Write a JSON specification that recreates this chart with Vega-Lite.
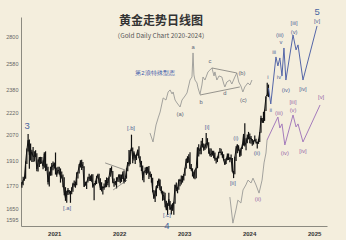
{
"$schema":"https://vega.github.io/schema/vega-lite/v6.json",
"width":306,"height":209,
"autosize":{"type":"none"},
"padding":{"left":21,"top":17,"right":19,"bottom":14},
"background":"#f4eedd",
"config":{"view":{"stroke":null},"font":"Liberation Sans"},
"title":{"text":"黄金走势日线图","subtitle":"（Gold Daily Chart 2020-2024）","font":"Noto Sans CJK SC","fontSize":12,"fontWeight":"bold","color":"#333333","subtitleFont":"Noto Sans CJK SC","subtitleFontSize":6.5,"subtitleColor":"#555555","subtitlePadding":5,"anchor":"middle","frame":"group","offset":-21,"dx":-13,"dy":13},
"datasets":{
"black":[
{"d":"2020-07-03","c":1775,"l":1757,"h":1789},{"d":"2020-07-10","c":1799,"l":1770,"h":1818},{"d":"2020-07-17","c":1810,"l":1795,"h":1815},{"d":"2020-07-24","c":1902,"l":1806,"h":1905},{"d":"2020-07-31","c":1975,"l":1890,"h":1983},{"d":"2020-08-07","c":2035,"l":1965,"h":2075},{"d":"2020-08-14","c":1944,"l":1863,"h":2040},{"d":"2020-08-21","c":1940,"l":1911,"h":2015},{"d":"2020-08-28","c":1964,"l":1903,"h":1976},{"d":"2020-09-04","c":1934,"l":1902,"h":1992},{"d":"2020-09-11","c":1940,"l":1906,"h":1966},{"d":"2020-09-18","c":1950,"l":1932,"h":1973},{"d":"2020-09-25","c":1862,"l":1849,"h":1954},{"d":"2020-10-02","c":1900,"l":1848,"h":1917},{"d":"2020-10-09","c":1930,"l":1873,"h":1932},{"d":"2020-10-16","c":1899,"l":1891,"h":1933},{"d":"2020-10-23","c":1902,"l":1894,"h":1932},{"d":"2020-10-30","c":1878,"l":1860,"h":1911},{"d":"2020-11-06","c":1951,"l":1869,"h":1960},{"d":"2020-11-13","c":1888,"l":1850,"h":1966},{"d":"2020-11-20","c":1870,"l":1853,"h":1892},{"d":"2020-11-27","c":1788,"l":1775,"h":1875},{"d":"2020-12-04","c":1839,"l":1764,"h":1848},{"d":"2020-12-11","c":1839,"l":1823,"h":1875},{"d":"2020-12-18","c":1881,"l":1824,"h":1896},{"d":"2020-12-25","c":1877,"l":1855,"h":1906},{"d":"2021-01-01","c":1895,"l":1864,"h":1900},
{"d":"2021-01-08","c":1850,"l":1830,"h":1959},{"d":"2021-01-15","c":1829,"l":1817,"h":1870},{"d":"2021-01-22","c":1856,"l":1836,"h":1875},{"d":"2021-01-29","c":1848,"l":1830,"h":1875},{"d":"2021-02-05","c":1813,"l":1785,"h":1865},{"d":"2021-02-12","c":1824,"l":1808,"h":1848},{"d":"2021-02-19","c":1784,"l":1760,"h":1830},{"d":"2021-02-26","c":1734,"l":1717,"h":1815},{"d":"2021-03-05","c":1700,"l":1687,"h":1760},{"d":"2021-03-12","c":1720,"l":1677,"h":1740},{"d":"2021-03-19","c":1745,"l":1718,"h":1755},{"d":"2021-03-26","c":1732,"l":1720,"h":1745},{"d":"2021-04-02","c":1729,"l":1677,"h":1740},{"d":"2021-04-09","c":1744,"l":1722,"h":1759},{"d":"2021-04-16","c":1777,"l":1735,"h":1784},{"d":"2021-04-23","c":1777,"l":1762,"h":1797},{"d":"2021-04-30","c":1768,"l":1757,"h":1790},{"d":"2021-05-07","c":1831,"l":1770,"h":1843},{"d":"2021-05-14","c":1844,"l":1808,"h":1846},{"d":"2021-05-21","c":1881,"l":1836,"h":1890},{"d":"2021-05-28","c":1903,"l":1870,"h":1913},{"d":"2021-06-04","c":1891,"l":1856,"h":1916},{"d":"2021-06-11","c":1877,"l":1868,"h":1903},{"d":"2021-06-18","c":1764,"l":1761,"h":1878},{"d":"2021-06-25","c":1781,"l":1768,"h":1790},{"d":"2021-07-02","c":1787,"l":1750,"h":1790},{"d":"2021-07-09","c":1808,"l":1785,"h":1818},{"d":"2021-07-16","c":1815,"l":1794,"h":1834},{"d":"2021-07-23","c":1802,"l":1794,"h":1825},{"d":"2021-07-30","c":1814,"l":1790,"h":1832},{"d":"2021-08-06","c":1763,"l":1757,"h":1832},{"d":"2021-08-13","c":1779,"l":1690,"h":1782},{"d":"2021-08-20","c":1781,"l":1770,"h":1795},{"d":"2021-08-27","c":1817,"l":1778,"h":1823},{"d":"2021-09-03","c":1827,"l":1808,"h":1834},{"d":"2021-09-10","c":1788,"l":1782,"h":1834},{"d":"2021-09-17","c":1754,"l":1745,"h":1809},{"d":"2021-09-24","c":1750,"l":1737,"h":1787},{"d":"2021-10-01","c":1761,"l":1721,"h":1765},{"d":"2021-10-08","c":1757,"l":1746,"h":1780},{"d":"2021-10-15","c":1768,"l":1758,"h":1800},{"d":"2021-10-22","c":1792,"l":1760,"h":1814},{"d":"2021-10-29","c":1783,"l":1771,"h":1810},{"d":"2021-11-05","c":1818,"l":1759,"h":1819},{"d":"2021-11-12","c":1865,"l":1817,"h":1868},{"d":"2021-11-19","c":1846,"l":1845,"h":1877},{"d":"2021-11-26","c":1788,"l":1782,"h":1850},{"d":"2021-12-03","c":1783,"l":1762,"h":1808},{"d":"2021-12-10","c":1783,"l":1770,"h":1794},{"d":"2021-12-17","c":1798,"l":1753,"h":1815},{"d":"2021-12-24","c":1809,"l":1790,"h":1815},{"d":"2021-12-31","c":1829,"l":1789,"h":1832},
{"d":"2022-01-07","c":1797,"l":1782,"h":1831},{"d":"2022-01-14","c":1818,"l":1789,"h":1830},{"d":"2022-01-21","c":1835,"l":1805,"h":1848},{"d":"2022-01-28","c":1791,"l":1780,"h":1853},{"d":"2022-02-04","c":1808,"l":1788,"h":1810},{"d":"2022-02-11","c":1859,"l":1807,"h":1865},{"d":"2022-02-18","c":1898,"l":1849,"h":1902},{"d":"2022-02-25","c":1889,"l":1878,"h":1975},{"d":"2022-03-04","c":1966,"l":1889,"h":1973},{"d":"2022-03-11","c":1988,"l":1968,"h":2070},{"d":"2022-03-18","c":1921,"l":1895,"h":1989},{"d":"2022-03-25","c":1958,"l":1911,"h":1966},{"d":"2022-04-01","c":1925,"l":1890,"h":1945},{"d":"2022-04-08","c":1946,"l":1914,"h":1950},{"d":"2022-04-15","c":1974,"l":1940,"h":1978},{"d":"2022-04-22","c":1932,"l":1924,"h":1998},{"d":"2022-04-29","c":1897,"l":1872,"h":1936},{"d":"2022-05-06","c":1883,"l":1850,"h":1909},{"d":"2022-05-13","c":1811,"l":1798,"h":1882},{"d":"2022-05-20","c":1846,"l":1787,"h":1849},{"d":"2022-05-27","c":1853,"l":1838,"h":1870},{"d":"2022-06-03","c":1850,"l":1828,"h":1874},{"d":"2022-06-10","c":1871,"l":1836,"h":1875},{"d":"2022-06-17","c":1840,"l":1805,"h":1879},{"d":"2022-06-24","c":1826,"l":1816,"h":1847},{"d":"2022-07-01","c":1811,"l":1785,"h":1834},{"d":"2022-07-08","c":1742,"l":1732,"h":1812},{"d":"2022-07-15","c":1703,"l":1697,"h":1745},{"d":"2022-07-22","c":1727,"l":1681,"h":1739},{"d":"2022-07-29","c":1766,"l":1711,"h":1767},{"d":"2022-08-05","c":1775,"l":1754,"h":1795},{"d":"2022-08-12","c":1802,"l":1766,"h":1808},{"d":"2022-08-19","c":1747,"l":1744,"h":1802},{"d":"2022-08-26","c":1737,"l":1727,"h":1765},{"d":"2022-09-02","c":1712,"l":1688,"h":1740},{"d":"2022-09-09","c":1716,"l":1691,"h":1735},{"d":"2022-09-16","c":1675,"l":1654,"h":1730},{"d":"2022-09-23","c":1643,"l":1639,"h":1688},{"d":"2022-09-30","c":1660,"l":1615,"h":1675},{"d":"2022-10-07","c":1695,"l":1661,"h":1730},{"d":"2022-10-14","c":1644,"l":1640,"h":1686},{"d":"2022-10-21","c":1656,"l":1618,"h":1668},{"d":"2022-10-28","c":1644,"l":1636,"h":1675},{"d":"2022-11-04","c":1681,"l":1616,"h":1683},{"d":"2022-11-11","c":1771,"l":1672,"h":1775},{"d":"2022-11-18","c":1751,"l":1738,"h":1786},{"d":"2022-11-25","c":1755,"l":1727,"h":1759},{"d":"2022-12-02","c":1797,"l":1746,"h":1804},{"d":"2022-12-09","c":1797,"l":1765,"h":1807},{"d":"2022-12-16","c":1793,"l":1774,"h":1824},{"d":"2022-12-23","c":1798,"l":1785,"h":1823},{"d":"2022-12-30","c":1824,"l":1796,"h":1833},
{"d":"2023-01-06","c":1865,"l":1823,"h":1869},{"d":"2023-01-13","c":1920,"l":1865,"h":1922},{"d":"2023-01-20","c":1926,"l":1896,"h":1937},{"d":"2023-01-27","c":1929,"l":1900,"h":1949},{"d":"2023-02-03","c":1865,"l":1862,"h":1960},{"d":"2023-02-10","c":1865,"l":1852,"h":1890},{"d":"2023-02-17","c":1842,"l":1819,"h":1866},{"d":"2023-02-24","c":1811,"l":1808,"h":1847},{"d":"2023-03-03","c":1855,"l":1804,"h":1858},{"d":"2023-03-10","c":1868,"l":1809,"h":1870},{"d":"2023-03-17","c":1989,"l":1866,"h":1989},{"d":"2023-03-24","c":1978,"l":1935,"h":2010},{"d":"2023-03-31","c":1969,"l":1949,"h":1985},{"d":"2023-04-07","c":2008,"l":1949,"h":2032},{"d":"2023-04-14","c":2004,"l":1990,"h":2049},{"d":"2023-04-21","c":1983,"l":1970,"h":2015},{"d":"2023-04-28","c":1990,"l":1975,"h":2009},{"d":"2023-05-05","c":2017,"l":1983,"h":2080},{"d":"2023-05-12","c":2011,"l":2008,"h":2048},{"d":"2023-05-19","c":1978,"l":1952,"h":2022},{"d":"2023-05-26","c":1946,"l":1937,"h":1985},{"d":"2023-06-02","c":1948,"l":1932,"h":1983},{"d":"2023-06-09","c":1961,"l":1940,"h":1970},{"d":"2023-06-16","c":1958,"l":1925,"h":1970},{"d":"2023-06-23","c":1921,"l":1910,"h":1959},{"d":"2023-06-30","c":1919,"l":1893,"h":1927},{"d":"2023-07-07","c":1925,"l":1902,"h":1935},{"d":"2023-07-14","c":1955,"l":1923,"h":1963},{"d":"2023-07-21","c":1962,"l":1957,"h":1987},{"d":"2023-07-28","c":1959,"l":1942,"h":1982},{"d":"2023-08-04","c":1943,"l":1927,"h":1965},{"d":"2023-08-11","c":1913,"l":1911,"h":1948},{"d":"2023-08-18","c":1889,"l":1885,"h":1920},{"d":"2023-08-25","c":1915,"l":1890,"h":1925},{"d":"2023-09-01","c":1940,"l":1913,"h":1953},{"d":"2023-09-08","c":1919,"l":1914,"h":1953},{"d":"2023-09-15","c":1924,"l":1901,"h":1932},{"d":"2023-09-22","c":1925,"l":1913,"h":1947},{"d":"2023-09-29","c":1848,"l":1846,"h":1926},{"d":"2023-10-06","c":1832,"l":1810,"h":1850},{"d":"2023-10-13","c":1932,"l":1832,"h":1934},{"d":"2023-10-20","c":1981,"l":1908,"h":1997},{"d":"2023-10-27","c":2006,"l":1954,"h":2009},{"d":"2023-11-03","c":1992,"l":1970,"h":2003},{"d":"2023-11-10","c":1940,"l":1932,"h":1977},{"d":"2023-11-17","c":1980,"l":1939,"h":1988},{"d":"2023-11-24","c":2001,"l":1980,"h":2008},{"d":"2023-12-01","c":2072,"l":2001,"h":2075},{"d":"2023-12-08","c":2004,"l":1995,"h":2144},{"d":"2023-12-15","c":2019,"l":1973,"h":2047},{"d":"2023-12-22","c":2053,"l":2016,"h":2071},{"d":"2023-12-29","c":2063,"l":2040,"h":2088},
{"d":"2024-01-05","c":2045,"l":2016,"h":2078},{"d":"2024-01-12","c":2049,"l":2013,"h":2062},{"d":"2024-01-19","c":2029,"l":2001,"h":2043},{"d":"2024-01-26","c":2018,"l":2008,"h":2035},{"d":"2024-02-02","c":2039,"l":2030,"h":2065},{"d":"2024-02-09","c":2024,"l":2015,"h":2044},{"d":"2024-02-16","c":2013,"l":1984,"h":2024},{"d":"2024-02-23","c":2035,"l":2012,"h":2041},{"d":"2024-03-01","c":2083,"l":2024,"h":2088},{"d":"2024-03-08","c":2179,"l":2083,"h":2195},{"d":"2024-03-15","c":2155,"l":2146,"h":2180},{"d":"2024-03-22","c":2166,"l":2147,"h":2222},{"d":"2024-03-28","c":2230,"l":2160,"h":2236},{"d":"2024-04-05","c":2329,"l":2228,"h":2330},{"d":"2024-04-12","c":2344,"l":2331,"h":2431},{"d":"2024-04-19","c":2392,"l":2325,"h":2417}
],
"gray":[
{"g":"u","d":"2022-06-23","p":2081},{"g":"u","d":"2022-07-10","p":2024},{"g":"u","d":"2022-07-27","p":2133},{"g":"u","d":"2022-08-08","p":2180},{"g":"u","d":"2022-08-19","p":2220},{"g":"u","d":"2022-09-05","p":2319},{"g":"u","d":"2022-09-21","p":2304},{"g":"u","d":"2022-10-03","p":2362},{"g":"u","d":"2022-10-14","p":2377},{"g":"u","d":"2022-10-25","p":2348},{"g":"u","d":"2022-10-31","p":2362},{"g":"u","d":"2022-11-11","p":2304},{"g":"u","d":"2022-11-22","p":2283},{"g":"u","d":"2022-12-09","p":2255},{"g":"u","d":"2022-12-20","p":2304},{"g":"u","d":"2023-01-06","p":2333},{"g":"u","d":"2023-01-17","p":2355},{"g":"u","d":"2023-01-29","p":2421},{"g":"u","d":"2023-02-03","p":2451},{"g":"u","d":"2023-02-14","p":2474},{"g":"u","d":"2023-02-20","p":2665},{"g":"u","d":"2023-02-25","p":2490},{"g":"u","d":"2023-03-03","p":2451},{"g":"u","d":"2023-03-14","p":2429},{"g":"u","d":"2023-03-20","p":2392},{"g":"u","d":"2023-03-31","p":2345},{"g":"u","d":"2023-04-11","p":2414},{"g":"u","d":"2023-04-17","p":2474},{"g":"u","d":"2023-04-28","p":2451},{"g":"u","d":"2023-05-15","p":2513},{"g":"u","d":"2023-05-26","p":2528},{"g":"u","d":"2023-06-06","p":2544},{"g":"u","d":"2023-06-18","p":2482},{"g":"u","d":"2023-06-23","p":2513},{"g":"u","d":"2023-07-04","p":2451},{"g":"u","d":"2023-07-16","p":2482},{"g":"u","d":"2023-08-01","p":2474},{"g":"u","d":"2023-08-12","p":2421},{"g":"u","d":"2023-08-18","p":2399},{"g":"u","d":"2023-08-29","p":2436},{"g":"u","d":"2023-09-15","p":2451},{"g":"u","d":"2023-09-26","p":2421},{"g":"u","d":"2023-10-13","p":2474},{"g":"u","d":"2023-10-24","p":2505},{"g":"u","d":"2023-11-04","p":2436},{"g":"u","d":"2023-11-16","p":2406},{"g":"u","d":"2023-11-27","p":2362},{"g":"u","d":"2023-12-08","p":2399},{"g":"u","d":"2023-12-25","p":2429},{"g":"u","d":"2024-01-06","p":2414},{"g":"u","d":"2024-01-17","p":2451},
{"g":"l","d":"2023-09-15","p":1707},{"g":"l","d":"2023-10-02","p":1575},{"g":"l","d":"2023-10-19","p":1640},{"g":"l","d":"2023-10-30","p":1691},{"g":"l","d":"2023-11-16","p":1676},{"g":"l","d":"2023-11-28","p":1745},{"g":"l","d":"2023-12-14","p":1772},{"g":"l","d":"2023-12-26","p":1799},{"g":"l","d":"2024-01-12","p":1783},{"g":"l","d":"2024-01-23","p":1810},{"g":"l","d":"2024-02-09","p":1772},{"g":"l","d":"2024-02-26","p":1728},{"g":"l","d":"2024-03-14","p":1799},{"g":"l","d":"2024-03-25","p":1897},{"g":"l","d":"2024-04-05","p":1956},{"g":"l","d":"2024-04-11","p":2036}
],
"proj":[
{"g":"b","d":"2024-04-19","p":2392},{"g":"b","d":"2024-05-02","p":2276},{"g":"b","d":"2024-05-31","p":2632},{"g":"b","d":"2024-06-11","p":2560},{"g":"b","d":"2024-06-22","p":2624},{"g":"b","d":"2024-07-04","p":2482},{"g":"b","d":"2024-07-15","p":2706},{"g":"b","d":"2024-07-26","p":2451},{"g":"b","d":"2024-09-04","p":2817},{"g":"b","d":"2024-09-21","p":2690},{"g":"b","d":"2024-10-02","p":2732},{"g":"b","d":"2024-10-30","p":2451},{"g":"b","d":"2025-01-17","p":2897},
{"g":"v","d":"2024-04-11","p":2036},{"g":"v","d":"2024-06-11","p":2186},{"g":"v","d":"2024-06-22","p":2113},{"g":"v","d":"2024-07-04","p":2140},{"g":"v","d":"2024-07-20","p":2005},{"g":"v","d":"2024-09-04","p":2200},{"g":"v","d":"2024-09-21","p":2120},{"g":"v","d":"2024-10-02","p":2140},{"g":"v","d":"2024-10-30","p":2024},{"g":"v","d":"2025-02-03","p":2269}
],
"tri":[
{"d1":"2021-10-14","p1":1897,"d2":"2022-02-03","p2":1856},{"d1":"2021-11-28","p1":1745,"d2":"2022-02-14","p2":1799},
{"d1":"2023-06-06","p1":2544,"d2":"2023-10-24","p2":2505},{"d1":"2023-03-31","p1":2340,"d2":"2023-11-10","p2":2399}
],
"labels":[
{"d":"2020-08-02","p":2126,"t":"3","g":"big"},{"d":"2022-09-26","p":1561,"t":"4","g":"big"},{"d":"2025-01-17","p":3025,"t":"5","g":"big"},
{"d":"2021-03-14","p":1650,"t":"[.a]","g":"w"},{"d":"2022-03-08","p":2113,"t":"[.b]","g":"w"},{"d":"2022-09-26","p":1615,"t":"[.c]","g":"w"},{"d":"2023-05-10","p":2120,"t":"[i]","g":"w"},{"d":"2023-10-02","p":1783,"t":"[ii]","g":"w"},{"d":"2023-10-19","p":2049,"t":"(i)","g":"w"},{"d":"2024-02-14","p":1956,"t":"(ii)","g":"w"},{"d":"2024-04-16","p":2474,"t":"i","g":"w"},{"d":"2024-05-02","p":2234,"t":"ii","g":"w"},{"d":"2024-05-21","p":2673,"t":"iii","g":"w"},{"d":"2024-06-17","p":2474,"t":"iv","g":"w"},{"d":"2024-06-22","p":2817,"t":"(iii)","g":"w"},{"d":"2024-06-28","p":2757,"t":"v","g":"w"},{"d":"2024-07-26","p":2377,"t":"(iv)","g":"w"},{"d":"2024-09-10","p":2924,"t":"[iii]","g":"w"},{"d":"2024-09-10","p":2844,"t":"(v)","g":"w"},{"d":"2024-10-30","p":2384,"t":"[iv]","g":"w"},{"d":"2025-01-17","p":2942,"t":"[v]","g":"w"},
{"d":"2024-06-17","p":2214,"t":"(iii)","g":"p"},{"d":"2024-09-04","p":2290,"t":"[iii]","g":"p"},{"d":"2024-09-04","p":2234,"t":"(v)","g":"p"},{"d":"2024-07-20","p":1956,"t":"(iv)","g":"p"},{"d":"2024-10-30","p":1968,"t":"[iv]","g":"p"},{"d":"2025-02-09","p":2326,"t":"[v]","g":"p"},{"d":"2024-02-20","p":1697,"t":"(ii)","g":"p"},
{"d":"2023-02-20","p":2715,"t":"a","g":"k"},{"d":"2023-05-26","p":2600,"t":"c","g":"k"},{"d":"2023-11-22","p":2505,"t":"(b)","g":"k"},{"d":"2023-04-06","p":2290,"t":"b","g":"k"},{"d":"2023-08-18","p":2355,"t":"d","g":"k"},{"d":"2023-11-30","p":2304,"t":"(c)","g":"k"},{"d":"2022-12-09","p":2207,"t":"(a)","g":"k"},
{"d":"2022-07-21","p":2505,"t":"第2浪特殊型态","g":"n"}
]
},
"layer":[
{"data":{"name":"black"},"mark":{"type":"rule","color":"#111111","strokeWidth":1.2},
 "encoding":{
  "x":{"field":"d","type":"temporal","scale":{"domain":["2020-06-28","2025-03-14"]},"axis":{"values":[{"year":2021,"month":1,"date":1},{"year":2022,"month":1,"date":1},{"year":2023,"month":1,"date":1},{"year":2024,"month":1,"date":1},{"year":2025,"month":1,"date":1}],"format":"%Y","title":null,"grid":false,"ticks":false,"labelFontSize":6,"labelFontWeight":"bold","labelColor":"#333333","labelPadding":4,"domainColor":"#8c8a80","domainWidth":1}},
  "y":{"field":"l","type":"quantitative","scale":{"type":"log","domain":[1561,2978],"nice":false,"zero":false},"axis":{"values":[1595,1650,1770,1910,2070,2220,2380,2580,2800],"format":"d","title":null,"grid":false,"ticks":false,"labelFontSize":5.5,"labelColor":"#666666","labelPadding":3,"domainColor":"#8c8a80","domainWidth":1}},
  "y2":{"field":"h"}}},
{"data":{"name":"black"},"mark":{"type":"line","color":"#111111","strokeWidth":1},
 "encoding":{"x":{"field":"d","type":"temporal"},"y":{"field":"c","type":"quantitative"}}},
{"data":{"name":"gray"},"mark":{"type":"line","color":"#9a9a96","strokeWidth":0.9},
 "encoding":{"x":{"field":"d","type":"temporal"},"y":{"field":"p","type":"quantitative"},"detail":{"field":"g"}}},
{"data":{"name":"proj"},"transform":[{"filter":"datum.g==='b'"}],"mark":{"type":"line","color":"#5466a8","strokeWidth":1},
 "encoding":{"x":{"field":"d","type":"temporal"},"y":{"field":"p","type":"quantitative"}}},
{"data":{"name":"proj"},"transform":[{"filter":"datum.g==='v'"}],"mark":{"type":"line","color":"#a57cbc","strokeWidth":1},
 "encoding":{"x":{"field":"d","type":"temporal"},"y":{"field":"p","type":"quantitative"}}},
{"data":{"name":"tri"},"mark":{"type":"rule","color":"#555555","strokeWidth":0.6},
 "encoding":{"x":{"field":"d1","type":"temporal"},"y":{"field":"p1","type":"quantitative"},"x2":{"field":"d2"},"y2":{"field":"p2"}}},
{"data":{"name":"labels"},"transform":[{"filter":"datum.g!=='big'"}],"mark":{"type":"text","fontSize":5.8,"baseline":"middle","align":"center"},
 "encoding":{"x":{"field":"d","type":"temporal"},"y":{"field":"p","type":"quantitative"},"text":{"field":"t"},
  "color":{"field":"g","type":"nominal","legend":null,"scale":{"domain":["w","p","k","n"],"range":["#4f6296","#9466a8","#5c6478","#3552a8"]}}}},
{"data":{"name":"labels"},"transform":[{"filter":"datum.g==='big'"}],"mark":{"type":"text","fontSize":9.5,"baseline":"middle","align":"center","color":"#4a66a0"},
 "encoding":{"x":{"field":"d","type":"temporal"},"y":{"field":"p","type":"quantitative"},"text":{"field":"t"}}}
]
}
